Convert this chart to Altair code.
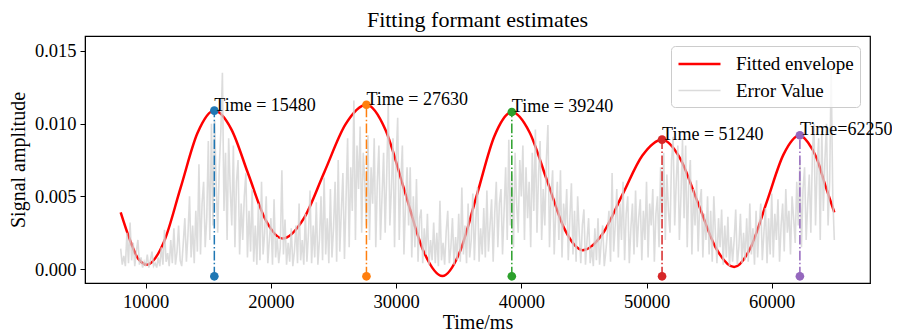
import altair as alt
import pandas as pd

FONT = "Liberation Serif"

# Fitted envelope (red curve): sample times (ms) and amplitudes
env_t = [8000, 8700, 9400, 10100, 11445, 12790, 14135, 15480, 16842, 18205,
         19568, 20930, 22605, 24280, 25955, 27630, 29147, 30665, 32182, 33700,
         35085, 36470, 37855, 39240, 40655, 42070, 43485, 44900, 46485, 48070,
         49655, 51240, 52680, 54120, 55560, 57000, 58312, 59625, 60937, 62250,
         62900, 63600, 64300, 65000]
env_v = [0.0039, 0.0021, 0.0007, 0.0003, 0.00185, 0.0056, 0.00935, 0.0109, 0.00961, 0.0065,
         0.00339, 0.0021, 0.00345, 0.0067, 0.00995, 0.0113, 0.00958, 0.00541, 0.00124, -0.00048,
         0.00117, 0.00516, 0.00915, 0.0108, 0.00941, 0.00605, 0.00269, 0.0013, 0.00241, 0.0051,
         0.00779, 0.0089, 0.00762, 0.00452, 0.00142, 0.00014, 0.00147, 0.00467, 0.00787, 0.0092,
         0.0087, 0.0076, 0.0057, 0.0039]

# Error values (gray), in units of 1e-4, 8 samples per second from 8000 ms
noise_rows = [
    [14, 3, 9, 2, 25, 4, 32, 6],
    [18, 2, 12, 20, 3, 8, 1, 5],
    [2, 10, 1, 6, 12, 2, 4, 1],
    [8, 2, 15, 3, 27, 5, 11, 2],
    [20, 4, 28, 3, 12, 30, 6, 2],
    [18, 35, 5, 24, 50, 8, 30, 4],
    [40, 12, 72, 10, 45, 60, 15, 35],
    [88, 20, 100, 30, 102, 60, 25, 70],
    [95, 135, 40, 80, 20, 90, 55, 30],
    [85, 15, 60, 75, 10, 45, 20, 50],
    [66, 8, 40, 12, 55, 5, 30, 3],
    [45, 6, 60, 10, 25, 50, 4, 20],
    [35, 3, 48, 8, 22, 4, 15, 68],
    [10, 34, 3, 18, 5, 28, 2, 12],
    [30, 4, 45, 6, 20, 3, 38, 5],
    [25, 54, 4, 30, 8, 46, 3, 20],
    [50, 6, 63, 10, 35, 4, 55, 8],
    [28, 60, 5, 75, 12, 40, 66, 7],
    [48, 90, 15, 70, 40, 116, 20, 85],
    [55, 98, 25, 80, 60, 30, 92, 20],
    [70, 45, 90, 15, 60, 85, 20, 50],
    [80, 25, 65, 114, 30, 55, 90, 15],
    [75, 104, 20, 60, 85, 10, 45, 70],
    [30, 70, 8, 50, 15, 62, 5, 35],
    [41, 4, 28, 10, 38, 3, 20, 6],
    [32, 4, 25, 2, 47, 6, 18, 3],
    [26, 40, 4, 15, 35, 3, 22, 6],
    [38, 5, 56, 10, 30, 4, 45, 8],
    [20, 52, 6, 35, 56, 5, 28, 10],
    [42, 8, 54, 12, 30, 48, 5, 38],
    [60, 15, 45, 55, 10, 40, 70, 20],
    [89, 30, 65, 15, 80, 45, 25, 75],
    [50, 85, 20, 70, 35, 60, 15, 80],
    [40, 96, 25, 65, 88, 20, 55, 30],
    [75, 99, 15, 50, 68, 10, 40, 60],
    [20, 68, 8, 45, 30, 55, 6, 35],
    [59, 10, 40, 5, 50, 25, 4, 30],
    [41, 3, 20, 35, 4, 15, 2, 28],
    [6, 35, 3, 18, 30, 2, 12, 25],
    [40, 5, 66, 12, 30, 55, 8, 45],
    [20, 60, 6, 38, 50, 4, 28, 45],
    [10, 54, 15, 35, 48, 6, 40, 20],
    [60, 8, 45, 30, 55, 5, 38, 50],
    [15, 70, 35, 80, 20, 65, 40, 25],
    [75, 91, 30, 60, 85, 20, 50, 89],
    [35, 85, 15, 60, 75, 10, 55, 30],
    [61, 12, 45, 55, 8, 38, 20, 50],
    [10, 40, 5, 50, 25, 4, 35, 15],
    [41, 3, 30, 8, 36, 2, 22, 5],
    [20, 41, 3, 15, 38, 4, 25, 6],
    [35, 5, 45, 10, 28, 3, 40, 8],
    [30, 45, 6, 25, 42, 4, 35, 10],
    [52, 8, 38, 20, 48, 5, 30, 45],
    [12, 55, 25, 40, 10, 50, 35, 18],
    [60, 30, 75, 15, 55, 70, 20, 45],
    [65, 25, 80, 100, 30, 70, 90, 20],
    [95, 40, 75, 100, 30, 60, 137, 50],
    [20],
]
noise_start = 8000
noise_step = 125

# Peaks
peak_t = [15480, 27630, 39240, 51240, 62250]
peak_v = [0.0109, 0.0113, 0.0108, 0.0089, 0.0092]
peak_labels = ["Time = 15480", "Time = 27630", "Time = 39240", "Time = 51240", "Time=62250"]
peak_colors = ["#1f77b4", "#ff7f0e", "#2ca02c", "#d62728", "#9467bd"]
base_level = -0.0005

series_names = ["Fitted envelope", "Error Value"]

x_ticks = [10000, 20000, 30000, 40000, 50000, 60000]
y_ticks = [0.0, 0.005, 0.010, 0.015]

# ---- build tables ----
env_df = pd.DataFrame({"t": env_t, "v": env_v, "series": series_names[0]})
nvals = [v * 1e-4 for row in noise_rows for v in row]
noise_df = pd.DataFrame({
    "t": [noise_start + i * noise_step for i in range(len(nvals))],
    "v": nvals,
    "series": series_names[1],
})
peaks_df = pd.DataFrame({"t": peak_t, "v": peak_v, "label": peak_labels,
                         "clr": peak_colors, "base": base_level})

xscale = alt.Scale(domain=[5150, 67850], nice=False, zero=False)
yscale = alt.Scale(domain=[-0.00096, 0.01603], nice=False, zero=False)

X = alt.X("t:Q", scale=xscale,
          axis=alt.Axis(title="Time/ms", values=x_ticks, format="d"))
Y = alt.Y("v:Q", scale=yscale,
          axis=alt.Axis(title="Signal amplitude", values=y_ticks, format=".3f"))

legend = alt.Legend(
    title=None, orient="top-right", offset=10,
    labelFont=FONT, labelFontSize=19, labelColor="black",
    symbolType="M-1,0H3", symbolSize=441,
    strokeColor="#cccccc", fillColor="rgba(255,255,255,0.8)",
    cornerRadius=4, padding=6, labelOffset=35, rowPadding=5,
)
color = alt.Color("series:N", scale=alt.Scale(domain=series_names, range=["#ff0000", "#d3d3d3"]),
                  legend=legend)
swidth = alt.StrokeWidth("series:N", scale=alt.Scale(domain=series_names, range=[2.5, 1.6]),
                         legend=legend)
sopac = alt.Opacity("series:N", scale=alt.Scale(domain=series_names, range=[1.0, 0.8]),
                    legend=legend)

env_line = alt.Chart(env_df).mark_line(interpolate="monotone").encode(
    x=X, y=Y, color=color, strokeWidth=swidth, opacity=sopac)
noise_line = alt.Chart(noise_df).mark_line().encode(
    x=X, y=Y, color=color, strokeWidth=swidth, opacity=sopac)

rules = alt.Chart(peaks_df).mark_rule(strokeWidth=1.5, strokeDash=[9.6, 2.4, 1.5, 2.4]).encode(
    x="t:Q", y="base:Q", y2="v:Q", color=alt.Color("clr:N", scale=None))
top_pts = alt.Chart(peaks_df).mark_circle(size=75, opacity=1).encode(
    x="t:Q", y="v:Q", color=alt.Color("clr:N", scale=None))
bot_pts = alt.Chart(peaks_df).mark_circle(size=75, opacity=1).encode(
    x="t:Q", y="base:Q", color=alt.Color("clr:N", scale=None))
texts = alt.Chart(peaks_df).mark_text(
    align="left", baseline="alphabetic", font=FONT, fontSize=18, color="black", dx=0, dy=0
).encode(x="t:Q", y="v:Q", text="label:N")

chart = alt.layer(env_line, noise_line, rules, top_pts, bot_pts, texts).properties(
    width=785, height=247,
    autosize=alt.AutoSizeParams(type="none"),
    padding={"left": 77, "top": 28, "right": 22, "bottom": 50},
    title=alt.TitleParams("Fitting formant estimates", font=FONT, fontSize=22,
                          fontWeight="normal", color="black", anchor="middle", offset=4),
).configure_view(stroke="black", strokeWidth=1.2).configure_axis(
    grid=False, labelFont=FONT, titleFont=FONT, labelFontSize=18.5, titleFontSize=20,
    titleFontWeight="normal", labelColor="black", titleColor="black",
    domainColor="black", tickColor="black", tickSize=5, labelPadding=4,
).configure_axisY(titlePadding=6, labelPadding=4).configure_axisX(titlePadding=2)

chart.save("out.html", embed_options={"renderer": "svg", "actions": False})
